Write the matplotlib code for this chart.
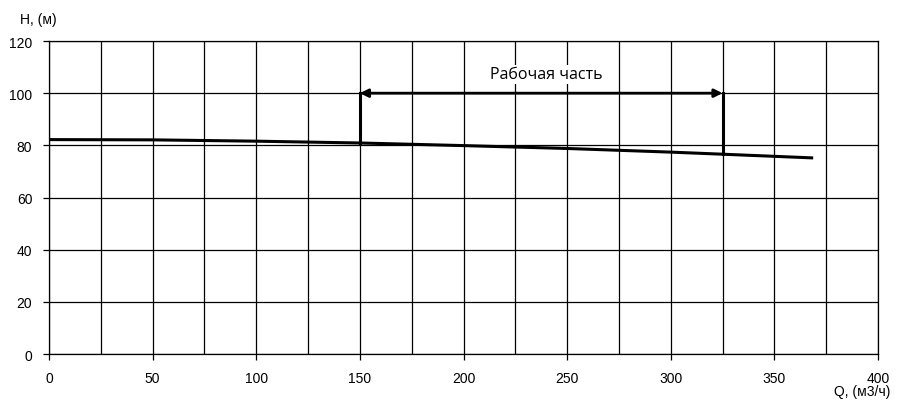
import matplotlib
matplotlib.use("Agg")
import matplotlib.pyplot as plt
import numpy as np

q = [0, 50, 100, 150, 200, 250, 300, 325, 368]
h = [82.2, 82.1, 81.6, 80.9, 79.9, 78.8, 77.4, 76.6, 75.2]
work_start, work_end = 150, 325
work_top = 100
x_ticks = [0, 50, 100, 150, 200, 250, 300, 350, 400]
y_ticks = [0, 20, 40, 60, 80, 100, 120]
work_label = "Рабочая часть"

plt.rcParams['font.family'] = ['Liberation Sans', 'DejaVu Sans']
fig = plt.figure(figsize=(8.98, 4.02), dpi=100)
ax = fig.add_axes([0.0546, 0.1169, 0.9777 - 0.0546, 0.8955 - 0.1169])
ax.set_xlim(0, 400)
ax.set_ylim(0, 120)
ax.set_xticks(x_ticks)
ax.set_xticks(np.arange(25, 400, 50), minor=True)
ax.set_yticks(y_ticks)
ax.grid(True, which='both', color='black', linewidth=0.9)
ax.tick_params(which='minor', length=0)
ax.tick_params(which='major', length=4, width=0.9, labelsize=10, color='black', pad=8)
for s in ax.spines.values():
    s.set_linewidth(0.9)
ax.set_axisbelow(True)

ax.plot(q, h, color='black', linewidth=2.2, zorder=3)
h_s = np.interp(work_start, q, h)
h_e = np.interp(work_end, q, h)
ax.plot([work_start, work_start], [h_s, work_top], color='black', linewidth=2.2, zorder=3)
ax.plot([work_end, work_end], [h_e, work_top], color='black', linewidth=2.2, zorder=3)
ax.annotate('', xy=(work_start, work_top), xytext=(work_end, work_top),
            arrowprops=dict(arrowstyle='<|-|>', color='black', lw=2.0,
                            mutation_scale=12, shrinkA=0, shrinkB=0), zorder=4)
ax.text((work_start + work_end) / 2 + 2.5, 107.3, work_label, ha='center', va='center',
        fontsize=11.5, family=['Open Sans', 'DejaVu Sans'],
        bbox=dict(facecolor='white', edgecolor='none', pad=1))

fig.text(20 / 898, 1 - 20 / 402, "H, (м)", ha='left', va='center', fontsize=10)
fig.text(890 / 898, 1 - 392 / 402, "Q, (м3/ч)", ha='right', va='center', fontsize=10)

fig.savefig("out.png", dpi=100)
